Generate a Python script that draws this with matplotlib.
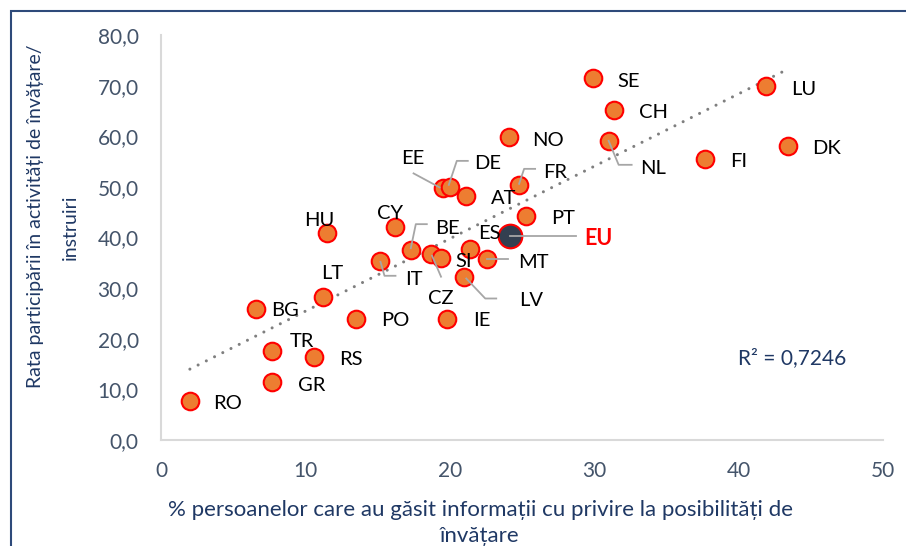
import numpy as np
import matplotlib
matplotlib.use("Agg")
import matplotlib.pyplot as plt
from matplotlib.lines import Line2D
from matplotlib.patches import Rectangle
from matplotlib.ticker import FuncFormatter
from matplotlib.transforms import IdentityTransform

plt.rcParams['font.family'] = ['Lato', 'DejaVu Sans']

# ---------------- data ----------------
countries = ["RO", "GR", "TR", "RS", "BG", "LT", "PO", "HU", "CY", "IT",
             "BE", "CZ", "SI", "ES", "MT", "LV", "IE", "PT", "AT", "FR",
             "EE", "DE", "NO", "SE", "CH", "NL", "FI", "LU", "DK"]
info_pct = [2.0, 7.7, 7.7, 10.6, 6.6, 11.2, 13.5, 11.5, 16.2, 15.2,
            17.3, 18.7, 19.4, 21.4, 22.6, 21.0, 19.8, 25.3, 21.1, 24.8,
            19.5, 20.0, 24.1, 29.9, 31.4, 31.0, 37.7, 41.9, 43.4]
particip_rate = [7.8, 11.4, 17.6, 16.3, 25.8, 28.3, 23.9, 40.8, 42.1, 35.4,
                 37.5, 36.8, 36.0, 37.7, 35.7, 32.1, 24.0, 44.2, 48.1, 50.4,
                 49.7, 50.0, 59.8, 71.6, 65.2, 59.1, 55.5, 69.9, 58.1]
eu_label = "EU"
eu_x = [24.2]
eu_y = [40.2]
r2_text = "R² = 0,7246"
x_ticks = [0, 10, 20, 30, 40, 50]
y_ticks = [0, 10, 20, 30, 40, 50, 60, 70, 80]
x_title = "% persoanelor care au găsit informații cu privire la posibilități de\nînvățare"
y_title_lines = ["Rata participării în activități de învățare/", "instruiri"]

# ---------------- layout (label offsets in pixels: dx right, dy down) ----------------
label_off = {
    "SE": (36, 2), "CH": (39, 1), "NL": (44, 26), "LU": (38, 2), "DK": (39, 1),
    "FI": (33, 1), "NO": (39, 2), "FR": (36, -14), "AT": (38, 1), "PT": (37, 1),
    "EE": (-30, -31), "DE": (38, -25), "HU": (-8, -14), "CY": (-5, -15),
    "BE": (37, -23), "IT": (33, 17), "CZ": (10, 43), "SI": (23, 2),
    "ES": (19, -17), "MT": (46, 2), "LV": (67, 22), "IE": (35, 0),
    "LT": (9, -25), "BG": (29, 0), "PO": (39, 0), "TR": (30, -11),
    "RS": (37, 1), "GR": (39, 2), "RO": (38, 1),
}
leaders = {
    "NL": [(0, 0), (10, 24), (23, 24)],
    "FR": [(0, -1), (5, -16), (16, -16)],
    "EE": [(-3, -1), (-29, -15)],
    "DE": [(-1, -2), (7, -26), (18, -26)],
    "BE": [(0, -2), (5, -26), (16, -26)],
    "IT": [(0, 1), (4, 15), (15, 15)],
    "CZ": [(1, 2), (10, 23)],
    "MT": [(0, 0), (21, 0)],
    "LV": [(2, 1), (21, 21), (32, 21)],
}
eu_leader = [(0, 0), (66, 0)]
eu_label_off = (88, 0)

W, H = 906, 546
fig = plt.figure(figsize=(W / 100, H / 100), dpi=100)
ax = fig.add_axes([161 / W, 1 - 440 / H, (883 - 161) / W, (440 - 35) / H])

ax.set_xlim(0, 50)
ax.set_ylim(0, 80)
ax.set_xticks(x_ticks)
ax.set_yticks(y_ticks)
ax.yaxis.set_major_formatter(FuncFormatter(lambda v, p: f"{v:.1f}".replace(".", ",")))
ax.xaxis.set_major_formatter(FuncFormatter(lambda v, p: f"{v:.0f}"))
tick_col = "#44546A"
ax.tick_params(axis='both', length=0, labelsize=15, colors=tick_col)
ax.tick_params(axis='x', pad=15)
ax.tick_params(axis='y', pad=16)
for s in ["top", "right"]:
    ax.spines[s].set_visible(False)
for s in ["left", "bottom"]:
    ax.spines[s].set_color("#D9D9D9")
    ax.spines[s].set_linewidth(1.5)

# trend line
xa = np.array(info_pct)
ya = np.array(particip_rate)
k, b = np.polyfit(xa, ya, 1)
xt = np.array([xa.min(), xa.max()])
ax.plot(xt, k * xt + b, color="#7F7F7F", lw=2.2,
        linestyle=(0, (0.01, 3.0)), dash_capstyle='round', zorder=2)

# points
ax.scatter(info_pct, particip_rate, s=160, facecolor="#ED7D31",
           edgecolor="#FF0000", linewidth=1.5, zorder=3)
ax.scatter(eu_x, eu_y, s=290, facecolor="#333F50",
           edgecolor="#FF0000", linewidth=1.5, zorder=4)

fig.canvas.draw()

def draw_leader(xv, yv, path):
    px, py = ax.transData.transform((xv, yv))
    xs = [px + d[0] for d in path]
    ys = [py - d[1] for d in path]
    ln = Line2D(xs, ys, transform=IdentityTransform(), color="#A6A6A6",
                lw=1.3, zorder=5)
    fig.add_artist(ln)

for c, xv, yv in zip(countries, info_pct, particip_rate):
    dx, dy = label_off[c]
    ax.annotate(c, (xv, yv), xytext=(dx, -dy), textcoords='offset pixels',
                ha='center', va='center_baseline', fontsize=14.5, color="#000000",
                zorder=6)
    if c in leaders:
        draw_leader(xv, yv, leaders[c])

draw_leader(eu_x[0], eu_y[0], eu_leader)
ax.annotate(eu_label, (eu_x[0], eu_y[0]), xytext=(eu_label_off[0], -eu_label_off[1]),
            textcoords='offset pixels', ha='center', va='center_baseline',
            fontsize=15.5, fontweight='bold', color="#FF0000", zorder=6)

title_col = "#1F3864"
fig.text(792 / W, 1 - 358 / H, r2_text, ha='center', va='center',
         fontsize=15, color=title_col)
fig.text(480 / W, 1 - 523 / H, x_title, ha='center', va='center',
         fontsize=16, color=title_col, linespacing=1.38, multialignment='center')
fig.text(36 / W, 1 - 216 / H, y_title_lines[0], ha='center', va='center', rotation=90,
         fontsize=14, color=title_col)
fig.text(70 / W, 1 - 227 / H, y_title_lines[1], ha='center', va='center', rotation=90,
         fontsize=14, color=title_col)

# outer frame (only top and left visible)
fig.add_artist(Rectangle((11 / W, -0.1), 1.2, 1 - 11 / H + 0.1, transform=fig.transFigure,
                         fill=False, edgecolor="#2E4A7A", lw=1.5, clip_on=False))

fig.savefig("out.png", dpi=100)
